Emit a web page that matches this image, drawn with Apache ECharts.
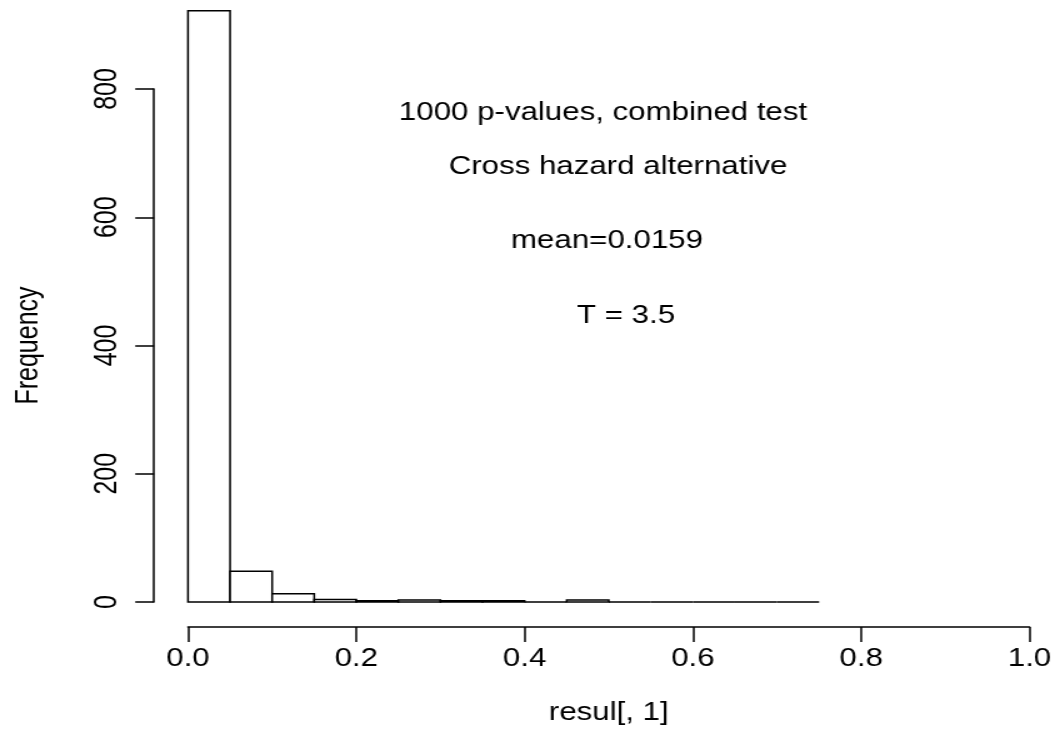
<!DOCTYPE html>
<html>
<head>
<meta charset="utf-8">
<script src="https://cdn.jsdelivr.net/npm/echarts@6/dist/echarts.min.js"></script>
<style>
  html, body { margin: 0; padding: 0; background: #fff; overflow: hidden; }
  /* the reference is a horizontally stretched R plot, so draw narrow and stretch */
  #main { width: 845.6px; height: 753px; transform: scaleX(1.25); transform-origin: 0 0; }
</style>
</head>
<body>
<div id="main"></div>
<script>
  // histogram bins of the p-values
  var binStart = [0, 0.05, 0.10, 0.15, 0.20, 0.25, 0.30, 0.35, 0.40, 0.45, 0.50, 0.55, 0.60, 0.65, 0.70];
  var binEnd   = [0.05, 0.10, 0.15, 0.20, 0.25, 0.30, 0.35, 0.40, 0.45, 0.50, 0.55, 0.60, 0.65, 0.70, 0.75];
  var counts   = [922, 48, 13, 4, 2, 3, 2, 2, 0, 3, 0, 0, 0, 0, 0];

  var notes = ['1000 p-values, combined test', 'Cross hazard alternative', 'mean=0.0159', 'T = 3.5'];

  var FONT = "'Liberation Sans', Arial, sans-serif";

  var bins = [];
  binStart.forEach(function (s, i) {
    bins.push([s, binEnd[i], counts[i]]);
  });

  var myChart = echarts.init(document.getElementById('main'));

  var option = {
    backgroundColor: '#fff',
    animation: false,
    grid: { left: 150.4, right: 22.4, top: 89, bottom: 151 },
    xAxis: {
      type: 'value',
      min: 0, max: 1, interval: 0.2,
      offset: 25,
      name: 'resul[, 1]',
      nameLocation: 'middle',
      nameGap: 74,
      nameTextStyle: { color: '#000', fontSize: 25, fontFamily: FONT },
      axisLine: { show: true, onZero: false, lineStyle: { color: '#000', width: 1.5 } },
      axisTick: { show: true, length: 15, lineStyle: { color: '#000', width: 1.5 } },
      axisLabel: {
        color: '#000', fontSize: 25, fontFamily: FONT, margin: 20,
        formatter: function (v) { return v.toFixed(1); }
      },
      splitLine: { show: false }
    },
    yAxis: {
      type: 'value',
      min: 0, max: 800, interval: 200,
      offset: 27.2,
      name: 'Frequency',
      nameLocation: 'middle',
      nameRotate: 90,
      nameGap: 88,
      nameTextStyle: { color: '#000', fontSize: 25, fontFamily: FONT },
      axisLine: { show: true, onZero: false, lineStyle: { color: '#000', width: 1.5 } },
      axisTick: { show: true, length: 15, lineStyle: { color: '#000', width: 1.5 } },
      axisLabel: { color: '#000', fontSize: 25, fontFamily: FONT, rotate: 90, margin: 25 },
      splitLine: { show: false }
    },
    graphic: [
      { type: 'text', x: 482.4, y: 113, style: { text: notes[0], fill: '#000', font: '25px ' + FONT, textAlign: 'center', textVerticalAlign: 'middle' } },
      { type: 'text', x: 494.4, y: 167, style: { text: notes[1], fill: '#000', font: '25px ' + FONT, textAlign: 'center', textVerticalAlign: 'middle' } },
      { type: 'text', x: 485.6, y: 241, style: { text: notes[2], fill: '#000', font: '25px ' + FONT, textAlign: 'center', textVerticalAlign: 'middle' } },
      { type: 'text', x: 500.8, y: 316, style: { text: notes[3], fill: '#000', font: '25px ' + FONT, textAlign: 'center', textVerticalAlign: 'middle' } }
    ],
    series: [
      {
        type: 'custom',
        clip: false,
        data: bins,
        renderItem: function (params, api) {
          var p0 = api.coord([api.value(0), api.value(2)]);
          var p1 = api.coord([api.value(1), 0]);
          return {
            type: 'rect',
            shape: { x: p0[0], y: p0[1], width: p1[0] - p0[0], height: p1[1] - p0[1] },
            style: { fill: '#fff', stroke: '#000', lineWidth: 1.5 }
          };
        }
      }
    ]
  };

  myChart.setOption(option);
</script>
</body>
</html>
